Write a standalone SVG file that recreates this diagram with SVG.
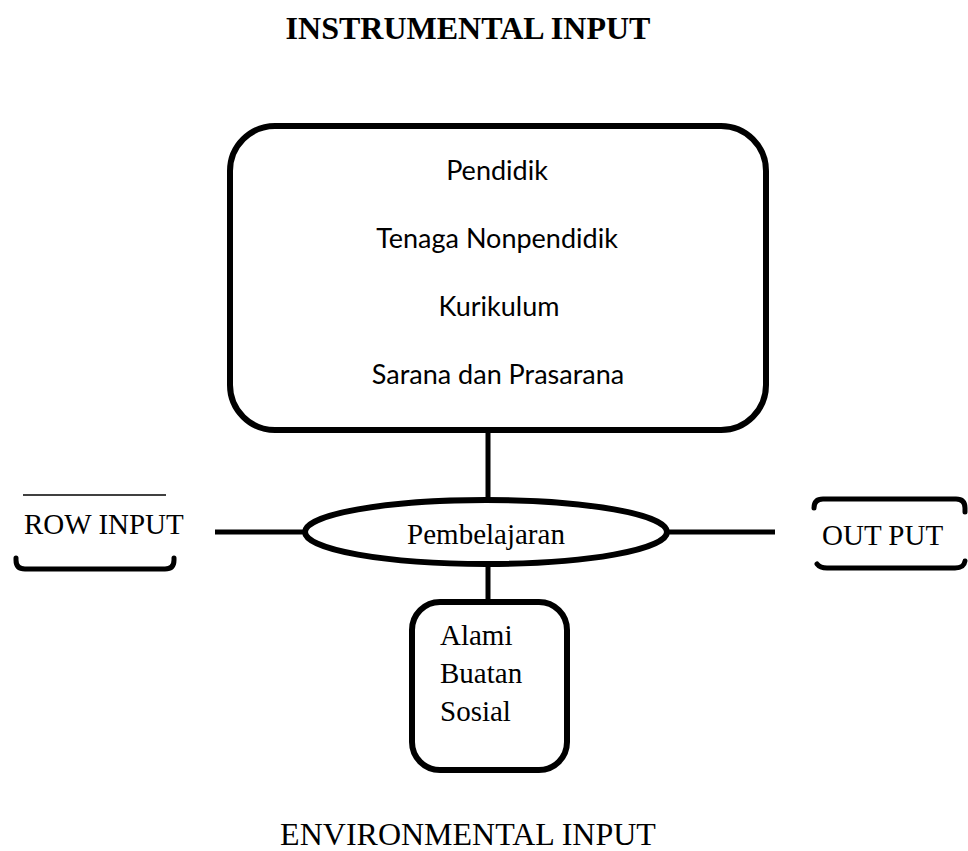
<svg xmlns="http://www.w3.org/2000/svg" width="968" height="851" viewBox="0 0 968 851">
<style>
.serif{font-family:"Liberation Serif","Times New Roman",serif;font-size:29px;fill:#000}
.title{font-family:"Liberation Serif","Times New Roman",serif;font-size:32px;fill:#000}
.cal{font-family:Lato,"Open Sans",sans-serif;font-size:27px;fill:#000}
.box{fill:#fff;stroke:#000;stroke-width:6}
.edge{stroke:#000;stroke-width:5;fill:none}
.br{stroke:#000;stroke-width:5;fill:none;stroke-linecap:round}
</style>
<rect width="968" height="851" fill="#fff"/>
<text class="title" x="468" y="39" text-anchor="middle" font-weight="bold">INSTRUMENTAL INPUT</text>
<text class="title" x="468" y="845" text-anchor="middle">ENVIRONMENTAL INPUT</text>
<g id="connectors">
<line class="edge" x1="488" y1="430" x2="488" y2="500"/>
<line class="edge" x1="215" y1="532" x2="305" y2="532"/>
<line class="edge" x1="665" y1="532" x2="775" y2="532"/>
<line class="edge" x1="488" y1="564" x2="488" y2="602"/>
</g>
<g id="instrumental">
<rect class="box" x="230" y="126" width="536" height="304" rx="45"/>
<text class="cal" x="497" y="180" text-anchor="middle">Pendidik</text>
<text class="cal" x="497" y="248" text-anchor="middle">Tenaga Nonpendidik</text>
<text class="cal" x="499" y="316" text-anchor="middle">Kurikulum</text>
<text class="cal" x="498" y="384" text-anchor="middle">Sarana dan Prasarana</text>
</g>
<g id="pembelajaran">
<ellipse class="box" cx="486" cy="532" rx="181" ry="32"/>
<text class="serif" x="486" y="544" text-anchor="middle">Pembelajaran</text>
</g>
<g id="environmental">
<rect class="box" x="412" y="602" width="155" height="168" rx="28"/>
<text class="serif" x="440" y="645">Alami</text>
<text class="serif" x="440" y="683">Buatan</text>
<text class="serif" x="440" y="721">Sosial</text>
</g>
<g id="rowinput">
<line x1="23" y1="495" x2="166" y2="495" stroke="#000" stroke-width="1.5"/>
<path class="br" d="M16 558 L16 560 Q16 569 25 569 L165 569 Q174 569 174 560 L174 558"/>
<text class="serif" x="24" y="534">ROW INPUT</text>
</g>
<g id="output">
<path class="br" d="M814 508 Q814 499 823 499 L956 499 Q965 499 965 508 L965 512"/>
<path class="br" d="M817 564 Q820 568 827 568 L955 568 Q964 568 965 561"/>
<text class="serif" x="822" y="545">OUT PUT</text>
</g>
</svg>
